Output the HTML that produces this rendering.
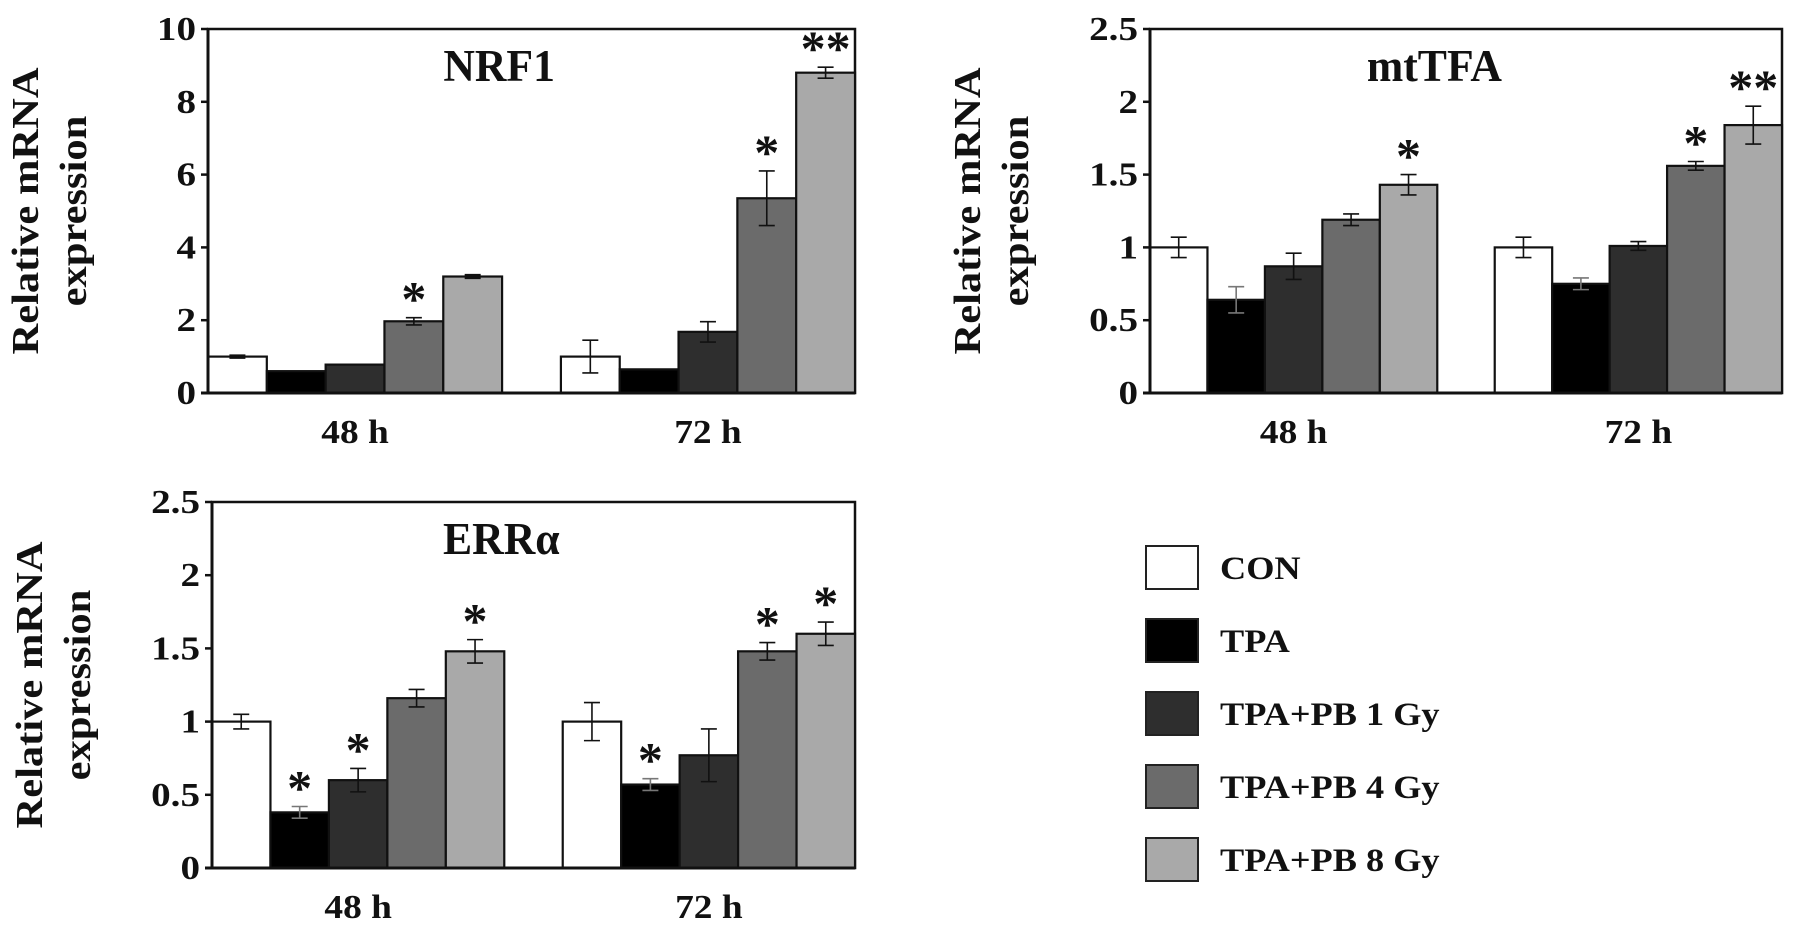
<!DOCTYPE html>
<html><head><meta charset="utf-8"><style>
html,body{margin:0;padding:0;background:#fff;}
svg{display:block;}
text{font-family:"Liberation Serif","Times New Roman",serif;font-weight:bold;fill:#111;}
</style></head><body>
<svg id="fig" width="1795" height="932" viewBox="0 0 1795 932"></svg>
<script>
const groups = ["48 h", "72 h"];
const series = ["CON", "TPA", "TPA+PB 1 Gy", "TPA+PB 4 Gy", "TPA+PB 8 Gy"];
const colors = ["#ffffff", "#000000", "#2e2e2e", "#6b6b6b", "#a9a9a9"];

const nrf1Values = [[1.0, 0.6, 0.78, 1.97, 3.2], [1.0, 0.65, 1.68, 5.35, 8.8]];
const nrf1Errors = [[0.04, 0.0, 0.0, 0.1, 0.05], [0.45, 0.0, 0.28, 0.75, 0.15]];
const nrf1Stars = [["", "", "", "*", ""], ["", "", "", "*", "**"]];
const nrf1Ticks = [0, 2, 4, 6, 8, 10];

const mttfaValues = [[1.0, 0.64, 0.87, 1.19, 1.43], [1.0, 0.75, 1.01, 1.56, 1.84]];
const mttfaErrors = [[0.07, 0.09, 0.09, 0.04, 0.07], [0.07, 0.04, 0.03, 0.03, 0.13]];
const mttfaStars = [["", "", "", "", "*"], ["", "", "", "*", "**"]];
const mttfaTicks = [0, 0.5, 1, 1.5, 2, 2.5];

const erraValues = [[1.0, 0.38, 0.6, 1.16, 1.48], [1.0, 0.57, 0.77, 1.48, 1.6]];
const erraErrors = [[0.05, 0.04, 0.08, 0.06, 0.08], [0.13, 0.04, 0.18, 0.06, 0.08]];
const erraStars = [["", "*", "*", "", "*"], ["", "*", "", "*", "*"]];
const erraTicks = [0, 0.5, 1, 1.5, 2, 2.5];

const NS = "http://www.w3.org/2000/svg";
const svg = document.getElementById("fig");

function el(tag, attrs, parent) {
  const e = document.createElementNS(NS, tag);
  for (const k in attrs) e.setAttribute(k, attrs[k]);
  (parent || svg).appendChild(e);
  return e;
}
function txt(str, x, y, size, anchor, parent, sx) {
  const t = el("text", {x: 0, y: 0, "font-size": size, "text-anchor": anchor,
    transform: "translate(" + x + "," + y + ") scale(" + (sx || 1) + ",1)"}, parent);
  t.textContent = str;
  return t;
}

function panel(name, title, box, values, errors, stars, ticks) {
  const g = el("g", {});
  
  
  const L = box[0], R = box[1], T = box[2], B = box[3];
  const maxV = ticks[ticks.length - 1];
  const yS = v => B - (v / maxV) * (B - T);
  const W = R - L, w = W / 11;
  const xS = (gi, si) => L + gi * 6 * w + si * w;

  const frame = el("rect", {x: L, y: T, width: W, height: B - T, fill: "none", stroke: "#111", "stroke-width": 2.5}, g);
  
  

  ticks.forEach(tv => {
    const y = yS(tv);
    el("line", {x1: L - 7, x2: L, y1: y, y2: y, stroke: "#111", "stroke-width": 2.5}, g);
    const lab = txt(String(tv), L - 12, y + 11, 34, "end", g, 1.15);
    
    
  });

  values.forEach((grp, gi) => {
    grp.forEach((v, si) => {
      const x = xS(gi, si);
      const r = el("rect", {x: x, y: yS(v), width: w, height: B - yS(v), fill: colors[si], stroke: "#111", "stroke-width": 2.2}, g);
      
      
      const e = errors[gi][si];
      const cx = x + w / 2;
      if (e > 0) {
        const eb = el("path", {d: "M" + cx + "," + yS(v + e) + "V" + yS(v - e) +
          "M" + (cx - 8) + "," + yS(v + e) + "h16M" + (cx - 8) + "," + yS(v - e) + "h16",
          stroke: si === 1 ? "#777" : "#111", "stroke-width": 1.6, fill: "none"}, g);
        
        
      }
      const s = stars[gi][si];
      if (s) {
        const st = txt(s, cx, yS(v + e) - 2, 50, "middle", g, 1.0);
        
        
      }
    });
    const cl = txt(groups[gi], xS(gi, 2.5), B + 50, 34, "middle", g, 1.1);
    
    
  });
  el("line", {x1: L, x2: L, y1: T, y2: B, stroke: "#111", "stroke-width": 3}, g);
  el("line", {x1: L - 7, x2: R, y1: B, y2: B, stroke: "#111", "stroke-width": 3}, g);

  const tt = txt(title, L + W * 0.45, T + 52, 46, "middle", g, 0.95);
  
  

  const ymid = (T + B) / 2;
  const yl1 = el("text", {x: 0, y: 0, "font-size": 38, "text-anchor": "middle",
    transform: "translate(" + (L - 170) + "," + ymid + ") rotate(-90) scale(1.12,1)"}, g);
  yl1.textContent = "Relative mRNA";
  
  
  const yl2 = el("text", {x: 0, y: 0, "font-size": 38, "text-anchor": "middle",
    transform: "translate(" + (L - 122) + "," + ymid + ") rotate(-90) scale(1.12,1)"}, g);
  yl2.textContent = "expression";
  
  
}

panel("nrf1", "NRF1", [208, 855, 29, 393], nrf1Values, nrf1Errors, nrf1Stars, nrf1Ticks);
panel("mttfa", "mtTFA", [1150, 1782, 29, 393], mttfaValues, mttfaErrors, mttfaStars, mttfaTicks);
panel("erra", "ERRα", [212, 855, 502, 868], erraValues, erraErrors, erraStars, erraTicks);

const lg = el("g", {});


series.forEach((s, i) => {
  const y = 546 + i * 73;
  const b = el("rect", {x: 1146, y: y, width: 52, height: 43, fill: colors[i], stroke: "#222", "stroke-width": 2}, lg);
  
  
  const t = txt(s, 1220, y + 33, 33, "start", lg, 1.1);
  
  
});
</script>
</body></html>
